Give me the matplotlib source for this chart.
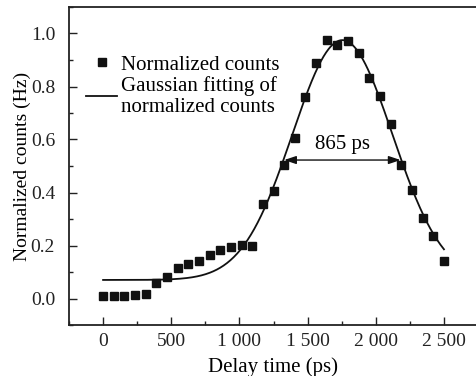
import numpy as np
import matplotlib
matplotlib.use("Agg")
import matplotlib.pyplot as plt
from matplotlib.ticker import MultipleLocator, FuncFormatter

delay_ps = [0, 78, 156, 234, 312, 391, 469, 547, 625, 703, 781, 859, 938,
            1016, 1094, 1172, 1250, 1328, 1406, 1484, 1563, 1641, 1719, 1797,
            1875, 1953, 2031, 2109, 2188, 2266, 2344, 2422, 2500]
counts = [0.011, 0.009, 0.009, 0.015, 0.016, 0.059, 0.082, 0.115, 0.132,
          0.141, 0.164, 0.184, 0.194, 0.203, 0.200, 0.355, 0.405, 0.504,
          0.605, 0.760, 0.888, 0.977, 0.958, 0.971, 0.927, 0.831, 0.763,
          0.659, 0.504, 0.408, 0.304, 0.235, 0.143]

# gaussian fit parameters (baseline, amplitude, centre, FWHM)
fit_y0 = 0.07
fit_amp = 0.905
fit_xc = 1755
fit_fwhm = 865
fwhm_label = "865 ps"

plt.rcParams["font.family"] = ["Liberation Serif", "DejaVu Serif"]
plt.rcParams["font.size"] = 15

fig = plt.figure(figsize=(4.76, 3.76), dpi=100)
ax = fig.add_axes([69 / 476, 1 - 325 / 376, 1 - 69 / 476, (325 - 7) / 376])

sigma = fit_fwhm / (2 * np.sqrt(2 * np.log(2)))
xf = np.linspace(delay_ps[0], delay_ps[-1], 400)
yf = fit_y0 + fit_amp * np.exp(-(xf - fit_xc) ** 2 / (2 * sigma ** 2))

ax.plot(delay_ps, counts, "s", color="#111111", ms=5.3, lw=0,
        label="Normalized counts")
ax.plot(xf, yf, "-", color="#111111", lw=1.3,
        label="Gaussian fitting of\nnormalized counts")

half = fit_y0 + fit_amp / 2
ax.annotate("", xy=(fit_xc - fit_fwhm / 2 + 5, half),
            xytext=(fit_xc + fit_fwhm / 2 - 5, half),
            arrowprops=dict(arrowstyle="<|-|>,head_length=0.6,head_width=0.2",
                            color="#111111", lw=1.0,
                            mutation_scale=12, shrinkA=0, shrinkB=0))
ax.text(fit_xc, half + 0.06, fwhm_label, ha="center", va="center")

ax.set_xlim(-250, 2735)
ax.set_ylim(-0.1, 1.1)
ax.xaxis.set_major_locator(MultipleLocator(500))
ax.xaxis.set_minor_locator(MultipleLocator(250))
ax.yaxis.set_major_locator(MultipleLocator(0.2))
ax.yaxis.set_minor_locator(MultipleLocator(0.1))
ax.xaxis.set_major_formatter(FuncFormatter(
    lambda v, p: f"{int(v):,}".replace(",", " ")))
ax.yaxis.set_major_formatter(FuncFormatter(lambda v, p: f"{v:.1f}"))

ax.tick_params(which="both", direction="in", width=1.0, colors="#222222",
               labelsize=14)
ax.tick_params(which="major", length=6)
ax.tick_params(which="minor", length=3)
ax.tick_params(axis="y", pad=10)
ax.tick_params(axis="x", pad=6)
for s in ["left", "bottom", "top"]:
    ax.spines[s].set_linewidth(1.3)
    ax.spines[s].set_color("#222222")
ax.spines["right"].set_visible(False)

ax.set_xlabel("Delay time (ps)", labelpad=5)
ax.set_ylabel("Normalized counts (Hz)", fontsize=14, labelpad=0)

ax.legend(loc="upper left", bbox_to_anchor=(86 / 476, 1 - 55 / 376),
          bbox_transform=fig.transFigure, frameon=False, borderpad=0,
          handlelength=1.5, handletextpad=0.2, labelspacing=0.05,
          borderaxespad=0)

fig.savefig("out.png", dpi=100)
